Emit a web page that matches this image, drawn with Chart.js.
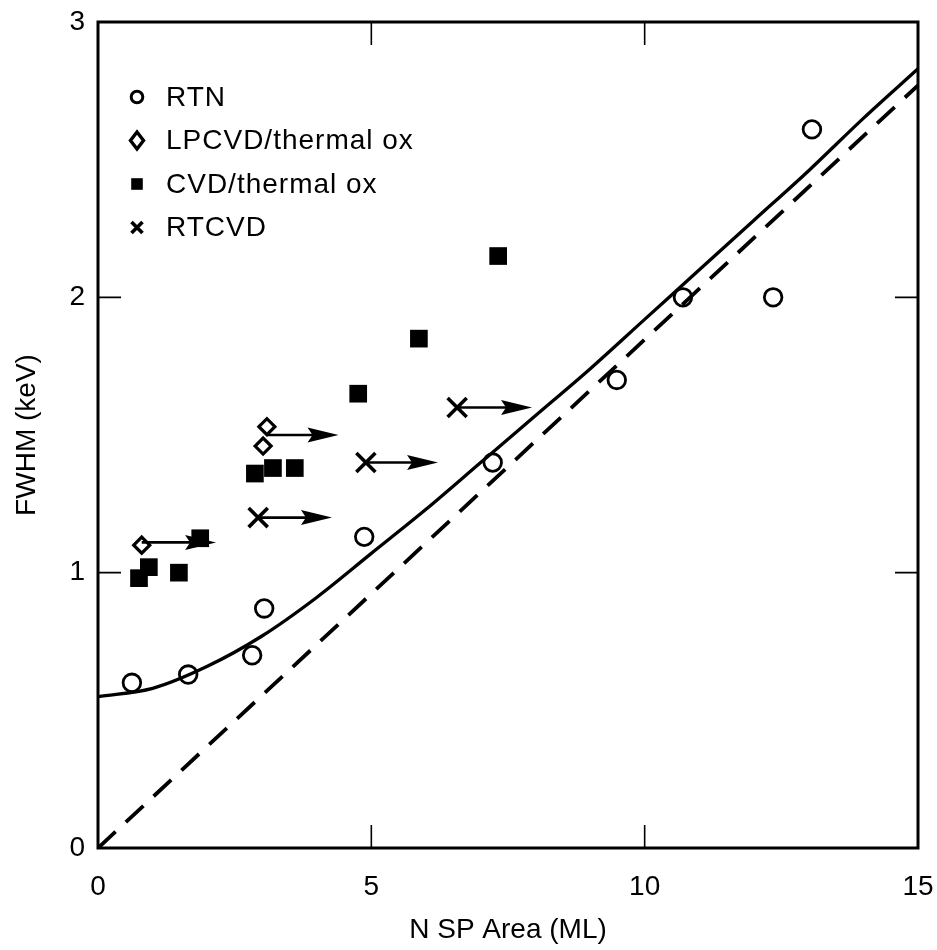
<!DOCTYPE html>
<html><head><meta charset="utf-8">
<script src="https://cdn.jsdelivr.net/npm/chart.js@4.4.1/dist/chart.umd.min.js"></script>
<style>html,body{margin:0;padding:0;background:#fff;} #wrap{width:937px;height:950px;position:relative;}</style>
</head><body><div id="wrap"><canvas id="c" width="937" height="950"></canvas></div>
<script>
// ---- data ----
const xTicks = [0, 5, 10, 15];
const yTicks = [0, 1, 2, 3];
const xTitle = 'N SP Area (ML)';
const yTitle = 'FWHM (keV)';
const seriesNames = ['RTN', 'LPCVD/thermal ox', 'CVD/thermal ox', 'RTCVD'];

const rtnX = [0.62, 1.65, 2.82, 3.04, 4.87, 7.22, 9.49, 10.70, 12.35, 13.06];
const rtnY = [0.60, 0.63, 0.70, 0.87, 1.13, 1.40, 1.70, 2.00, 2.00, 2.61];
const lpX = [0.80, 3.02, 3.09];
const lpY = [1.10, 1.46, 1.53];
const cvdX = [0.75, 0.93, 1.48, 1.87, 2.87, 3.20, 3.60, 4.76, 5.87, 7.32];
const cvdY = [0.98, 1.02, 1.00, 1.125, 1.36, 1.38, 1.38, 1.65, 1.85, 2.15];
const rtcX = [2.93, 4.90, 6.57];
const rtcY = [1.20, 1.40, 1.60];

const arrowFromX = [0.80, 3.09, 2.93, 4.90, 6.57];
const arrowToX   = [2.16, 4.40, 4.28, 6.22, 7.94];
const arrowY     = [1.11, 1.50, 1.20, 1.40, 1.60];

const fitX = [0, 1, 2, 3, 4, 5, 6, 7, 8, 9, 10, 11, 12, 13, 14, 15];
const fitY = [0.55, 0.58, 0.66, 0.77, 0.91, 1.07, 1.23, 1.40, 1.57, 1.74, 1.92, 2.10, 2.28, 2.46, 2.65, 2.83];
const dashX = [0, 15];
const dashY = [0, 2.77];

// ---- helpers ----
const pts = (xs, ys) => xs.map((x, i) => ({x: x, y: ys[i]}));
const FONT = "'Liberation Sans', Arial, sans-serif";
const INK = '#000';

const markerStyles = [
  {pointStyle: 'circle', pointRadius: 8.8, borderWidth: 2.8, backgroundColor: 'rgba(0,0,0,0)'},
  {pointStyle: 'rectRot', pointRadius: 8, borderWidth: 3.2, backgroundColor: 'rgba(0,0,0,0)'},
  {pointStyle: 'rect', pointRadius: 12.5, borderWidth: 0, backgroundColor: INK},
  {pointStyle: 'crossRot', pointRadius: 13.5, borderWidth: 3.6, backgroundColor: INK}
];
const seriesX = [rtnX, lpX, cvdX, rtcX];
const seriesY = [rtnY, lpY, cvdY, rtcY];

const datasets = [];
seriesNames.forEach((name, i) => {
  const st = markerStyles[i];
  datasets.push({
    label: name,
    data: pts(seriesX[i], seriesY[i]),
    pointStyle: st.pointStyle,
    pointRadius: st.pointRadius,
    pointBorderWidth: st.borderWidth,
    pointBackgroundColor: st.backgroundColor,
    pointBorderColor: INK,
    showLine: false,
    isLegend: true,
    legendIndex: i
  });
});
arrowFromX.forEach((x0, i) => {
  datasets.push({
    label: 'arrow' + i,
    data: [{x: x0, y: arrowY[i]}, {x: arrowToX[i] - 0.25, y: arrowY[i]}],
    showLine: true, borderColor: INK, borderWidth: 2.6, pointRadius: 0
  });
});
datasets.push({
  label: 'fit', data: pts(fitX, fitY), showLine: true, borderColor: INK,
  borderWidth: 3.3, pointRadius: 0, cubicInterpolationMode: 'monotone'
});
datasets.push({
  label: 'linear', data: pts(dashX, dashY), showLine: true, borderColor: INK,
  borderWidth: 3.8, pointRadius: 0, borderDash: [24, 14], borderCapStyle: 'butt'
});

function drawMarker(ctx, style, x, y, r) {
  ctx.save();
  ctx.strokeStyle = INK; ctx.fillStyle = INK;
  ctx.beginPath();
  if (style === 'circle') {
    ctx.lineWidth = 3; ctx.arc(x, y, r, 0, Math.PI * 2); ctx.stroke();
  } else if (style === 'rectRot') {
    ctx.lineWidth = 3.4;
    ctx.moveTo(x, y - r * 1.3); ctx.lineTo(x + r, y); ctx.lineTo(x, y + r * 1.3); ctx.lineTo(x - r, y); ctx.closePath(); ctx.stroke();
  } else if (style === 'rect') {
    ctx.rect(x - r, y - r, 2 * r, 2 * r); ctx.fill();
  } else if (style === 'crossRot') {
    ctx.lineWidth = 3.6;
    ctx.moveTo(x - r, y - r); ctx.lineTo(x + r, y + r); ctx.moveTo(x + r, y - r); ctx.lineTo(x - r, y + r); ctx.stroke();
  }
  ctx.restore();
}

const framePlugin = {
  id: 'frame',
  afterDatasetsDraw(chart) {
    const {ctx, chartArea: a, scales: {x, y}} = chart;
    ctx.save();
    // arrowheads
    ctx.fillStyle = INK;
    arrowToX.forEach((tx, i) => {
      const px = x.getPixelForValue(tx), py = y.getPixelForValue(arrowY[i]);
      ctx.beginPath();
      ctx.moveTo(px, py);
      ctx.lineTo(px - 31, py - 7.5);
      ctx.lineTo(px - 26, py);
      ctx.lineTo(px - 31, py + 7.5);
      ctx.closePath();
      ctx.fill();
    });
    // frame
    ctx.strokeStyle = INK;
    ctx.lineWidth = 3;
    ctx.strokeRect(a.left, a.top, a.right - a.left, a.bottom - a.top);
    // inward ticks on all four sides
    ctx.lineWidth = 1.6;
    const tl = 23;
    ctx.beginPath();
    xTicks.forEach(v => {
      const px = x.getPixelForValue(v);
      ctx.moveTo(px, a.bottom); ctx.lineTo(px, a.bottom - tl);
      ctx.moveTo(px, a.top); ctx.lineTo(px, a.top + tl);
    });
    yTicks.forEach(v => {
      const py = y.getPixelForValue(v);
      ctx.moveTo(a.left, py); ctx.lineTo(a.left + tl, py);
      ctx.moveTo(a.right, py); ctx.lineTo(a.right - tl, py);
    });
    ctx.stroke();
    // legend
    const lx = a.left + 39, tx0 = a.left + 68;
    ctx.font = '28px ' + FONT;
    try { ctx.letterSpacing = '1px'; } catch (e) {}
    ctx.textBaseline = 'middle';
    ctx.textAlign = 'left';
    chart.data.datasets.filter(d => d.isLegend).forEach(d => {
      const ly = a.top + 75 + d.legendIndex * 43.5;
      const st = d.pointStyle;
      const r = st === 'circle' ? 5.8 : st === 'rectRot' ? 6.5 : st === 'rect' ? 5.8 : 5.5;
      drawMarker(ctx, st, lx, ly, r);
      ctx.fillStyle = INK;
      ctx.fillText(d.label, tx0, ly + 1);
    });
    ctx.restore();
  }
};

function noPad(s) { s.paddingTop = 0; s.paddingBottom = 0; s.paddingLeft = 0; s.paddingRight = 0; }

new Chart(document.getElementById('c'), {
  type: 'scatter',
  data: {datasets: datasets},
  plugins: [framePlugin],
  options: {
    responsive: false,
    animation: false,
    layout: {padding: {top: 22, right: 19, left: 0, bottom: 0}},
    plugins: {legend: {display: false}, tooltip: {enabled: false}},
    scales: {
      x: {
        type: 'linear', min: 0, max: 15,
        afterFit: s => { s.height = 102; noPad(s); },
        afterBuildTicks: s => { s.ticks = xTicks.map(v => ({value: v})); },
        grid: {display: false, drawTicks: false},
        border: {display: false},
        ticks: {color: INK, padding: 22, font: {family: FONT, size: 28}},
        title: {display: true, text: xTitle, color: INK, font: {family: FONT, size: 28}, padding: {top: 0, bottom: 3}}
      },
      y: {
        type: 'linear', min: 0, max: 3,
        afterFit: s => { s.width = 98; noPad(s); },
        afterBuildTicks: s => { s.ticks = yTicks.map(v => ({value: v})); },
        grid: {display: false, drawTicks: false},
        border: {display: false},
        ticks: {color: INK, padding: 13, font: {family: FONT, size: 28}},
        title: {display: true, text: yTitle, color: INK, font: {family: FONT, size: 28}, padding: {top: 10, bottom: 0}}
      }
    }
  }
});
</script>
</body></html>
